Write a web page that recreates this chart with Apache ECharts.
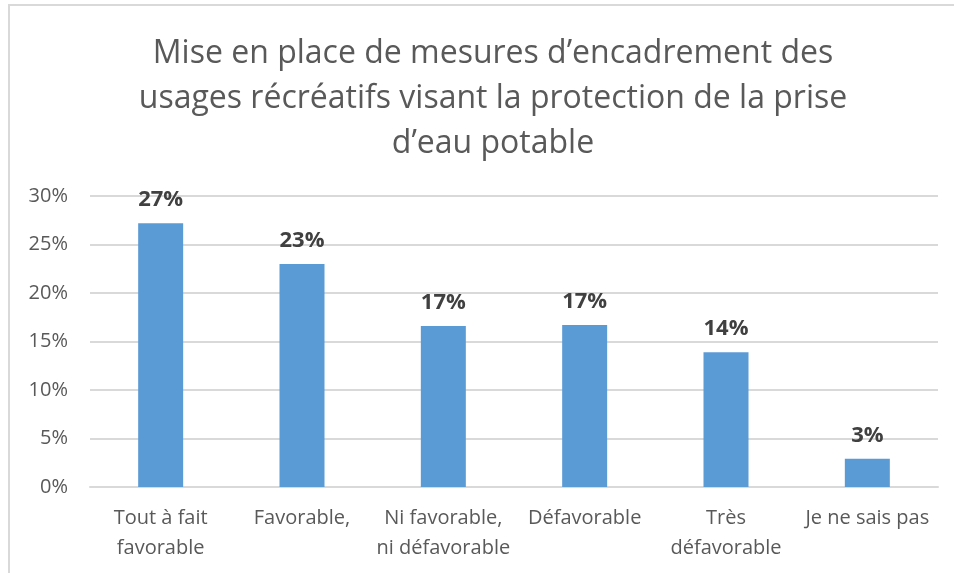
<!DOCTYPE html>
<html>
<head>
<meta charset="utf-8">
<script src="https://cdn.jsdelivr.net/npm/echarts@6/dist/echarts.min.js"></script>
<style>
  html, body { margin: 0; padding: 0; background: #fff; }
  #chart { width: 954px; height: 573px; }
</style>
</head>
<body>
<div id="chart"></div>
<script>
// categories and values
const categories = [
  'Tout à fait\nfavorable',
  'Favorable,',
  'Ni favorable,\nni défavorable',
  'Défavorable',
  'Très\ndéfavorable',
  'Je ne sais pas'
];
const values = [27.2, 23.0, 16.6, 16.7, 13.9, 2.9];
const yTicks = [0, 5, 10, 15, 20, 25, 30];

const titleText = 'Mise en place de mesures d’encadrement des\nusages récréatifs visant la protection de la prise\nd’eau potable';
const font = '"Open Sans", "Noto Sans", sans-serif';

const myChart = echarts.init(document.getElementById('chart'));

const option = {
  backgroundColor: '#fff',
  animation: false,
  title: {
    text: titleText,
    left: 488,
    top: 26,
    textAlign: 'center',
    textStyle: {
      color: '#595959',
      fontFamily: font,
      fontSize: 32,
      fontWeight: 'normal',
      lineHeight: 45
    }
  },
  graphic: [{
    type: 'rect',
    shape: { x: 9, y: 5, width: 1000, height: 1000 },
    style: { fill: 'none', stroke: '#d9d9d9', lineWidth: 2 },
    silent: true
  }],
  grid: { left: 90, right: 16, top: 196, bottom: 86 },
  xAxis: {
    type: 'category',
    data: categories,
    axisLine: { lineStyle: { color: '#d9d9d9', width: 2 } },
    axisTick: { show: false },
    axisLabel: {
      color: '#595959',
      fontFamily: font,
      fontSize: 20,
      lineHeight: 30,
      margin: 16,
      interval: 0
    }
  },
  yAxis: {
    type: 'value',
    min: yTicks[0],
    max: yTicks[yTicks.length - 1],
    interval: 5,
    axisLine: { show: false },
    axisTick: { show: false },
    splitLine: { lineStyle: { color: '#d9d9d9', width: 2 } },
    axisLabel: {
      color: '#595959',
      fontFamily: font,
      fontSize: 20,
      margin: 22,
      formatter: v => v + '%'
    }
  },
  series: [{
    type: 'bar',
    data: values,
    barWidth: 45,
    itemStyle: { color: '#5b9bd5' },
    label: {
      show: true,
      position: 'top',
      distance: 12,
      color: '#404040',
      fontFamily: font,
      fontSize: 22,
      fontWeight: 'bold',
      formatter: p => Math.round(p.value) + '%'
    }
  }]
};

myChart.setOption(option);
</script>
</body>
</html>
